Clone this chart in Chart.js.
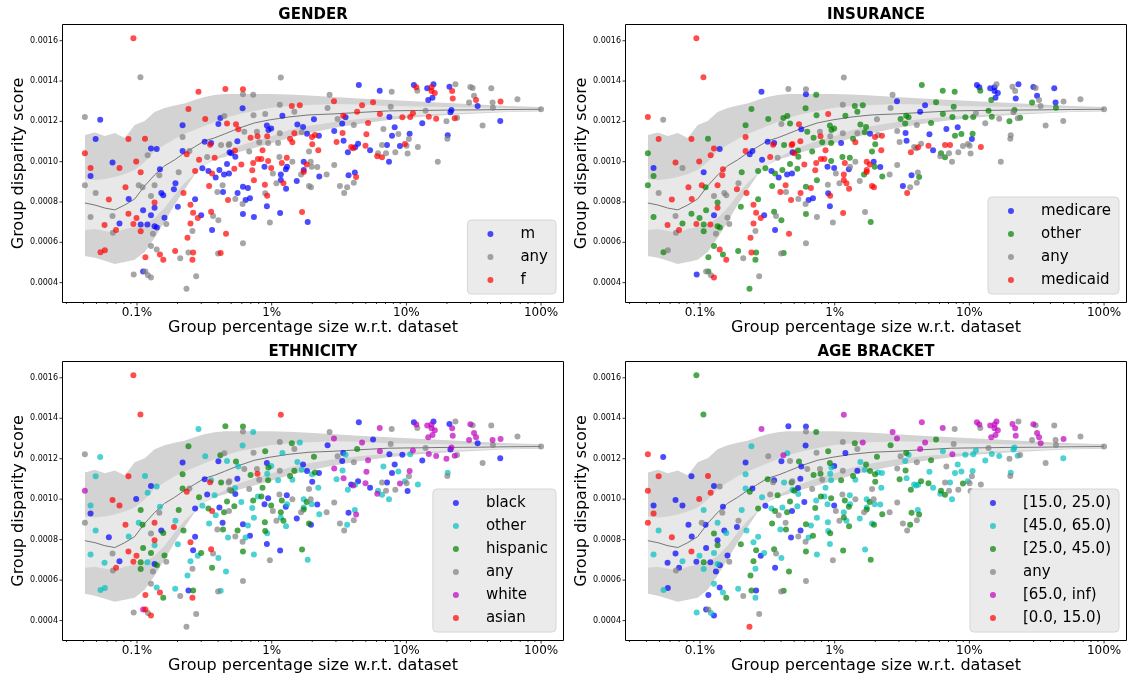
<!DOCTYPE html>
<html>
<head>
<meta charset="utf-8">
<script src="https://cdn.jsdelivr.net/npm/chart.js@4.4.1/dist/chart.umd.min.js"></script>
<style>
  body { margin: 0; background: #fff; }
  #wrap { position: relative; width: 1129px; height: 675px; }
  #wrap canvas { position: absolute; }
</style>
</head>
<body>
<div id="wrap">
  <canvas id="c0" width="566" height="337" style="left:0;top:0"></canvas>
  <canvas id="c1" width="566" height="337" style="left:563px;top:0"></canvas>
  <canvas id="c2" width="566" height="338" style="left:0;top:337px"></canvas>
  <canvas id="c3" width="566" height="338" style="left:563px;top:337px"></canvas>
</div>
<script>
// group size (% of dataset) and disparity score, one entry per group (same groups in every panel)
const groupSize = [
  0.094, 0.106, 0.286, 0.453, 0.041, 0.0533, 0.241, 0.218, 0.321, 0.416,
  0.445, 0.402, 0.466, 0.0493, 0.0864, 0.1146, 0.218, 0.318, 0.355, 0.349,
  0.421, 0.479, 0.041, 0.127, 0.14, 0.218, 0.245, 0.234, 0.12, 0.289,
  0.332, 0.377, 0.487, 0.0658, 0.0986, 0.466, 0.0452, 0.0452, 0.0741, 0.1065,
  0.148, 0.1465, 0.204, 0.27, 0.306, 0.339, 0.361, 0.384, 0.409, 0.443,
  0.482, 0.041, 0.0493, 0.0821, 0.0618, 0.103, 0.11, 0.135, 0.0868, 0.127,
  0.1515, 0.1567, 0.193, 0.188, 0.2215, 0.343, 0.432, 0.395, 0.435, 0.474,
  0.27, 0.135, 0.135, 0.111, 0.2495, 0.201, 0.0452, 0.0658, 0.0864, 0.127,
  0.261, 0.2826, 0.2995, 0.355, 0.367, 0.402, 0.16, 0.0991, 0.0574, 0.0741,
  0.094, 0.1065, 0.1194, 0.135, 0.1405, 0.165, 0.2495, 0.258, 0.361, 0.458,
  0.0699, 0.0663, 0.1065, 0.1313, 0.237, 0.127, 0.14, 0.148, 0.1567, 0.1154,
  0.192, 0.2094, 0.241, 0.261, 0.258, 0.4, 0.418, 0.0536, 0.0577, 0.0945,
  0.111, 0.1154, 0.1206, 0.127, 0.275, 0.233, 1.169, 4.436, 6.34, 7.78,
  0.612, 0.612, 0.729, 2.69, 2.9, 1.41, 1.616, 1.149, 2.6, 4.69,
  5.66, 7.65, 0.608, 4.31, 6.36, 7.48, 0.733, 0.895, 1.201, 1.473,
  3.395, 3.536, 3.085, 2.06, 3.337, 4.073, 5.195, 6.75, 8.19, 0.543,
  0.565, 0.921, 0.946, 0.991, 0.626, 0.785, 0.777, 1.551, 1.709, 1.473,
  1.149, 1.671, 1.829, 2.096, 1.992, 2.244, 2.912, 3.36, 5.05, 7.82,
  0.697, 0.926, 0.556, 1.369, 1.424, 2.0, 3.418, 3.033, 0.808, 0.941,
  1.116, 0.485, 0.534, 0.537, 0.501, 0.681, 2.218, 1.893, 3.89, 3.678,
  4.024, 4.38, 4.163, 4.97, 5.376, 6.595, 7.18, 6.16, 6.08, 6.595,
  7.06, 8.28, 7.43, 0.855, 1.141, 0.79, 0.838, 0.941, 0.729, 0.595,
  1.295, 1.189, 1.424, 1.729, 1.82, 1.948, 2.912, 0.528, 0.717, 0.884,
  0.991, 1.02, 1.301, 1.273, 1.729, 1.729, 1.652, 1.982, 2.18, 1.169,
  1.169, 1.084, 1.222, 1.279, 1.535, 2.256, 2.558, 3.72, 4.143, 4.236,
  4.073, 3.208, 3.633, 3.452, 1.893, 1.958, 0.738, 0.89, 0.612, 0.666,
  0.558, 0.537, 0.64, 0.69, 0.608, 0.895, 0.926, 0.921, 0.612, 0.738,
  1.155, 0.969, 1.68, 1.851, 0.612, 11.37, 11.85, 12.05, 14.28, 15.37,
  15.9, 15.37, 16.26, 15.63, 14.53, 20.88, 23.13, 21.87, 22.09, 29.85,
  31.05, 42.68, 31.8, 32.9, 29.2, 33.81, 43.64, 43.94, 50.02, 66.8,
  100, 21.61, 21.24, 13.88, 11.18, 10.69, 9.33, 14.68, 16.65, 22.85,
  23.81, 19.84, 13.12, 49.77, 36.81, 8.72, 10.57, 10.44, 20.28, 20.14,
  8.96, 9.75, 10.04, 12.17, 10.21, 17.11
];
const disparity = [
  0.001612, 0.001419, 0.001347, 0.001361, 0.001222, 0.001208, 0.001261, 0.001181, 0.001212, 0.001217,
  0.001227, 0.001187, 0.001189, 0.001113, 0.001113, 0.001114, 0.001123, 0.001099, 0.001093, 0.001084,
  0.001083, 0.001083, 0.001042, 0.001065, 0.001063, 0.001053, 0.001053, 0.001037, 0.001032, 0.00101,
  0.001023, 0.00102, 0.001047, 0.000996, 0.001001, 0.000989, 0.000969, 0.000929, 0.000969, 0.000947,
  0.000962, 0.000933, 0.000947, 0.000954, 0.000967, 0.000954, 0.000942, 0.000921, 0.000959, 0.000936,
  0.000942, 0.000883, 0.000845, 0.000873, 0.000812, 0.000883, 0.000873, 0.000883, 0.000815, 0.00083,
  0.000845, 0.000833, 0.000893, 0.000863, 0.000845, 0.00088, 0.000883, 0.00085, 0.00085, 0.00081,
  0.000814, 0.000797, 0.000772, 0.000759, 0.000787, 0.000777, 0.000726, 0.000731, 0.000742, 0.000734,
  0.000747, 0.000721, 0.000734, 0.000752, 0.000731, 0.000709, 0.000722, 0.000721, 0.000686, 0.000693,
  0.000691, 0.000688, 0.000688, 0.00068, 0.000673, 0.000691, 0.000693, 0.000656, 0.000661, 0.000643,
  0.000661, 0.000647, 0.000655, 0.000643, 0.000623, 0.000582, 0.000564, 0.000539, 0.000513, 0.000526,
  0.000557, 0.000521, 0.000549, 0.000549, 0.000513, 0.000544, 0.000547, 0.000551, 0.000561, 0.00044,
  0.000455, 0.000455, 0.000437, 0.000425, 0.000432, 0.00037, 0.001417, 0.00138, 0.001352, 0.001347,
  0.001359, 0.001334, 0.001332, 0.001332, 0.0013, 0.001276, 0.00128, 0.001283, 0.001266, 0.00128,
  0.001295, 0.001273, 0.001265, 0.001248, 0.001237, 0.001222, 0.00123, 0.001237, 0.001228, 0.001248,
  0.001228, 0.00122, 0.001212, 0.00121, 0.001189, 0.001182, 0.001192, 0.001162, 0.001171, 0.001186,
  0.001161, 0.001179, 0.001157, 0.001164, 0.001149, 0.001126, 0.001149, 0.001184, 0.001172, 0.001141,
  0.001141, 0.001146, 0.001139, 0.001132, 0.001123, 0.001129, 0.001152, 0.001142, 0.001136, 0.001129,
  0.001119, 0.001126, 0.001101, 0.001114, 0.001096, 0.001086, 0.001104, 0.001098, 0.001096, 0.001093,
  0.001093, 0.001088, 0.001055, 0.001025, 0.001042, 0.00105, 0.001057, 0.00105, 0.001073, 0.001047,
  0.001067, 0.001089, 0.001071, 0.001079, 0.001057, 0.001083, 0.001083, 0.001042, 0.001027, 0.001022,
  0.001042, 0.001047, 0.001, 0.001057, 0.001023, 0.001013, 0.001013, 0.001004, 0.000994, 0.000986,
  0.00102, 0.000994, 0.001, 0.001, 0.000986, 0.001, 0.000984, 0.000965, 0.000957, 0.000975,
  0.000969, 0.000942, 0.000975, 0.000962, 0.000959, 0.000949, 0.000936, 0.000975, 0.000974, 0.000936,
  0.000909, 0.000893, 0.000893, 0.000866, 0.000904, 0.000926, 0.000936, 0.000933, 0.000946, 0.000924,
  0.000896, 0.00088, 0.000873, 0.000845, 0.00088, 0.000873, 0.000908, 0.000886, 0.000876, 0.00087,
  0.000845, 0.000815, 0.00081, 0.000819, 0.00079, 0.000843, 0.000831, 0.000779, 0.000741, 0.000726,
  0.000746, 0.000698, 0.000751, 0.000701, 0.000595, 0.00138, 0.001369, 0.001352, 0.001364, 0.001369,
  0.001384, 0.001351, 0.001341, 0.001317, 0.001306, 0.001372, 0.001384, 0.001351, 0.001314, 0.00137,
  0.001366, 0.001364, 0.001327, 0.001306, 0.001293, 0.001276, 0.001293, 0.001268, 0.001298, 0.00131,
  0.00126, 0.001256, 0.001245, 0.001253, 0.00124, 0.001222, 0.00122, 0.001223, 0.001213, 0.001215,
  0.001218, 0.0012, 0.001191, 0.001202, 0.001179, 0.001137, 0.001139, 0.001113, 0.001131, 0.001114,
  0.001078, 0.001088, 0.001079, 0.001073, 0.00104, 0.001
];

// category of each group, as index into the panel's legend labels
const genderLabels = ['m', 'any', 'f'];
const genderCat = [
  2,1,2,2,1,0,2,0,2,0, 1,0,2,0,2,2,1,0,0,2, 1,1,2,0,0,0,1,2,1,2, 1,2,0,0,2,0,2,0,2,2,
  0,1,1,2,0,0,2,0,0,0, 0,1,1,2,2,1,1,1,0,1, 0,0,0,0,2,2,1,1,0,2, 0,2,0,0,2,0,1,1,2,0,
  2,2,0,2,1,1,0,2,2,0, 2,0,0,0,0,1,2,1,0,2, 2,1,2,1,2,1,1,2,2,2, 2,1,1,2,2,1,2,2,2,1,
  0,1,1,1,1,1,1,0,0,1, 2,1,1,1,2,2,2,1,1,2, 2,1,0,2,2,0,1,1,0,1, 2,0,1,0,0,1,2,1,0,2,
  2,0,0,0,1,2,1,0,0,2, 1,1,0,2,2,0,0,2,2,0, 2,2,0,2,2,2,0,2,1,1, 1,1,2,0,0,1,2,1,2,0,
  2,0,0,2,0,1,0,1,2,2, 1,1,0,2,1,2,2,2,2,2, 2,2,1,0,2,1,1,2,2,0, 2,1,0,0,0,2,1,1,1,0,
  0,1,2,0,0,0,1,0,0,2, 1,1,1,1,1,1,2,2,0,0, 0,1,0,0,1,1,2,0,0,0, 0,1,2,0,1,0,2,1,0,2,
  0,2,2,0,0,0,1,2,2,1, 1,1,1,2,1,0,1,1,2,1, 1,0,0,1,2,2,2,2,2,2, 1,1,0,0,1,1,0,1,0,1,
  0,2,1,1,1,1
];
const insuranceLabels = ['medicare', 'other', 'any', 'medicaid'];
const insuranceCat = [
  3,3,0,2,3,2,1,1,1,1, 1,2,1,3,3,1,3,0,0,3, 1,3,1,3,0,3,0,0,3,0, 3,2,0,3,3,1,0,1,2,0,
  3,3,1,1,1,0,1,0,1,0, 0,1,2,3,3,3,1,3,3,2, 2,2,2,3,3,1,3,3,2,3, 1,1,3,1,3,1,1,2,1,0,
  3,3,0,1,2,1,2,1,3,1, 3,1,3,1,1,2,3,2,0,3, 3,2,1,2,3,1,3,1,3,1, 1,2,3,1,1,2,1,1,2,0,
  2,1,2,3,2,1,2,1,1,1, 2,0,1,2,0,1,1,2,2,0, 1,1,1,0,1,1,1,3,1,1, 1,1,1,2,1,2,1,0,0,3,
  0,1,1,1,1,3,2,1,1,2, 2,1,0,2,3,3,2,0,0,1, 1,2,3,1,3,1,0,2,1,1, 0,3,1,1,3,1,3,1,2,3,
  2,2,3,3,0,3,3,1,2,1, 2,2,2,3,1,3,3,1,3,3, 1,3,2,3,3,0,2,1,3,0, 0,2,2,0,3,3,1,1,0,3,
  3,2,3,3,2,1,2,0,2,1, 2,0,2,3,3,3,1,2,1,3, 3,2,0,0,2,0,3,0,1,2, 3,2,2,1,2,0,0,1,0,0,
  2,0,0,0,1,2,0,2,0,0, 2,0,0,2,1,2,0,1,2,2, 2,1,2,1,2,1,1,1,2,2, 1,1,2,2,2,1,1,0,2,2,
  2,2,2,3,2,2
];
const ethnicityLabels = ['black', 'other', 'hispanic', 'any', 'white', 'asian'];
const ethnicityCat = [
  5,5,1,2,3,1,2,0,1,2, 3,0,1,1,5,1,2,0,1,5, 2,3,4,0,1,2,3,5,1,2, 0,1,3,5,0,2,1,0,5,2,
  1,3,2,0,1,2,5,1,0,2, 3,3,1,5,0,1,2,5,1,3, 0,2,1,5,2,1,0,3,2,1, 0,5,1,2,5,1,1,3,5,2,
  0,1,2,5,3,1,2,5,1,0, 5,2,1,0,2,3,1,3,2,1, 5,3,2,3,1,3,1,5,2,5, 1,3,0,2,5,3,1,1,1,3,
  4,5,3,5,3,3,5,0,4,3, 2,3,1,3,4,2,1,3,0,4, 0,3,1,2,4,0,3,2,1,3, 0,1,3,2,0,3,4,1,0,2,
  1,0,2,1,3,5,3,1,0,2, 3,1,0,2,1,0,4,1,4,0, 2,1,0,2,1,0,4,1,3,2, 1,3,1,0,2,3,1,3,0,1,
  4,0,1,4,0,3,0,1,4,1, 3,3,1,2,3,1,2,0,2,1, 0,2,3,1,2,3,3,2,1,0, 2,3,1,0,1,2,3,1,0,2,
  1,3,2,1,0,1,3,0,1,4, 3,3,1,3,2,0,1,2,0,1, 2,3,1,0,3,2,1,0,2,1, 0,3,2,1,3,0,4,3,4,4,
  0,4,4,4,4,0,3,4,4,4, 3,3,4,4,4,0,4,3,4,3, 3,4,0,3,4,1,0,4,4,4, 3,4,0,0,3,1,4,3,1,3,
  4,1,3,1,0,3
];
const ageLabels = ['[15.0, 25.0)', '[45.0, 65.0)', '[25.0, 45.0)', 'any', '[65.0, inf)', '[0.0, 15.0)'];
const ageCat = [
  2,2,4,0,5,0,1,0,3,4, 1,0,3,5,0,5,1,2,0,3, 1,2,5,0,3,1,0,2,5,1, 3,2,1,0,5,2,0,5,0,1,
  0,3,1,2,0,1,2,3,1,2, 0,5,1,0,5,3,0,1,0,2, 0,1,3,0,1,2,3,1,2,0, 1,0,2,0,1,2,1,0,5,1,
  2,0,1,2,3,1,0,1,0,1, 0,2,0,1,0,3,2,1,0,2, 0,3,1,0,2,1,0,1,2,0, 1,3,2,0,1,3,2,1,0,1,
  0,3,1,0,3,5,4,4,4,3, 0,3,2,4,4,2,4,3,2,4, 2,3,0,4,1,4,3,2,0,3, 2,1,3,2,1,3,2,3,1,2,
  0,2,1,0,3,2,3,1,2,0, 3,1,2,1,2,1,3,2,1,1, 2,1,0,2,1,2,1,2,3,1, 2,3,0,1,2,3,1,3,1,2,
  1,2,1,2,1,3,1,2,1,2, 3,3,1,1,3,2,1,2,1,0, 1,2,3,1,2,3,3,1,2,1, 0,3,1,2,1,2,3,1,1,1,
  2,3,1,2,1,2,3,2,1,2, 3,3,2,3,1,2,1,1,2,1, 0,3,1,2,3,1,2,1,2,1, 2,3,1,2,3,4,4,3,4,4,
  4,4,4,4,4,4,3,4,4,4, 3,3,4,4,3,4,3,3,4,3, 3,1,1,3,1,1,1,1,1,1, 3,3,1,1,3,1,1,3,1,3,
  2,1,3,3,3,3
];

// random-baseline envelope (outer / inner bands and median)
const bandSize = [0.041, 0.0487, 0.0577, 0.0684, 0.0811, 0.0961, 0.114, 0.135, 0.16, 0.19,
  0.225, 0.267, 0.317, 0.376, 0.445, 0.575, 0.742, 0.958, 1.346, 1.893,
  2.897, 4.436, 7.39, 12.32, 20.53, 34.21, 57.0, 100];
const outerHigh = [0.001132, 0.001145, 0.001128, 0.001142, 0.001118, 0.001182, 0.001202, 0.001247, 0.001266, 0.001279,
  0.001289, 0.001306, 0.001321, 0.001331, 0.001336, 0.001336, 0.001336, 0.001336, 0.001333, 0.001328,
  0.001321, 0.001313, 0.001306, 0.001299, 0.001291, 0.001284, 0.001276, 0.001271];
const innerHigh = [0.000914, 0.000909, 0.000914, 0.000924, 0.000939, 0.000959, 0.000999, 0.001053, 0.001083, 0.001113,
  0.001137, 0.001157, 0.001177, 0.001197, 0.001217, 0.001237, 0.001252, 0.001266, 0.001276, 0.001281,
  0.001286, 0.001284, 0.001276, 0.001274, 0.001271, 0.001269, 0.001266, 0.001264];
const medianScore = [0.000795, 0.000785, 0.00077, 0.000761, 0.000785, 0.000815, 0.00088, 0.000934, 0.000979, 0.001009,
  0.001043, 0.001073, 0.001103, 0.001118, 0.001137, 0.001167, 0.001192, 0.001207, 0.001222, 0.001232,
  0.001237, 0.001244, 0.001252, 0.001254, 0.001256, 0.001257, 0.001259, 0.00126];
const innerLow = [0.000661, 0.000666, 0.000656, 0.000647, 0.000666, 0.000676, 0.000691, 0.000721, 0.00077, 0.000835,
  0.000894, 0.000939, 0.000984, 0.001018, 0.001043, 0.001078, 0.001103, 0.001123, 0.001157, 0.001177,
  0.001197, 0.001212, 0.001224, 0.001232, 0.001239, 0.001244, 0.001249, 0.001254];
const outerLow = [0.000532, 0.000523, 0.000508, 0.000493, 0.000503, 0.000513, 0.000552, 0.000622, 0.000701, 0.000785,
  0.00086, 0.000934, 0.000984, 0.001009, 0.001023, 0.001048, 0.001068, 0.001088, 0.001118, 0.001142,
  0.001167, 0.001187, 0.001207, 0.001222, 0.001232, 0.001239, 0.001247, 0.001249];

// axis ticks
const xTickVals = [0.1, 1, 10, 100];
const xTickText = ['0.1%', '1%', '10%', '100%'];
const xMinorVals = [0.03, 0.04, 0.05, 0.06, 0.07, 0.08, 0.09, 0.2, 0.3, 0.4, 0.5, 0.6, 0.7, 0.8, 0.9,
  2, 3, 4, 5, 6, 7, 8, 9, 20, 30, 40, 50, 60, 70, 80, 90];
const yTickVals = [0.0004, 0.0006, 0.0008, 0.001, 0.0012, 0.0014, 0.0016];
const yTickText = ['0.0004', '0.0006', '0.0008', '0.0010', '0.0012', '0.0014', '0.0016'];

const BLUE = 'rgba(0,0,255,0.7)';
const GREY = 'rgba(128,128,128,0.7)';
const RED = 'rgba(255,0,0,0.7)';
const GREEN = 'rgba(0,128,0,0.7)';
const CYAN = 'rgba(0,191,191,0.7)';
const MAGENTA = 'rgba(191,0,191,0.7)';
const FONT = '"DejaVu Sans", sans-serif';

Chart.defaults.font.family = FONT;
Chart.defaults.color = '#000';

// frame, tick marks, panel title and legend (drawn like matplotlib)
const panelDecor = {
  id: 'panelDecor',
  afterDatasetsDraw(chart) {
    const { ctx, chartArea: a, scales: { x, y } } = chart;
    ctx.save();
    ctx.strokeStyle = '#000';
    ctx.lineWidth = 1;
    ctx.beginPath();
    ctx.rect(a.left - 0.5, a.top - 0.5, a.right - a.left + 1, a.bottom - a.top + 1);
    ctx.stroke();
    ctx.lineWidth = 0.8;
    ctx.beginPath();
    xTickVals.forEach(v => {
      const px = x.getPixelForValue(v);
      ctx.moveTo(px, a.bottom); ctx.lineTo(px, a.bottom + 3.5);
    });
    xMinorVals.forEach(v => {
      const px = x.getPixelForValue(v);
      ctx.moveTo(px, a.bottom); ctx.lineTo(px, a.bottom + 2);
    });
    yTickVals.forEach(v => {
      const py = y.getPixelForValue(v);
      ctx.moveTo(a.left, py); ctx.lineTo(a.left - 3.5, py);
    });
    ctx.stroke();
    ctx.restore();
  },
  afterDraw(chart, args, opts) {
    const { ctx, chartArea: a } = chart;
    ctx.save();
    ctx.fillStyle = '#000';
    ctx.font = 'bold 15px ' + FONT;
    ctx.textAlign = 'center';
    ctx.textBaseline = 'middle';
    ctx.fillText(opts.title, (a.left + a.right) / 2, a.top - 10);

    ctx.font = '15px ' + FONT;
    const tw = Math.max(...opts.labels.map(l => ctx.measureText(l).width));
    const w = 24 + 29 + tw + 8;
    const h = (opts.labels.length - 1) * 23 + 28;
    const bx = a.right - 7 - w;
    const by = a.bottom - 8 - h;
    ctx.beginPath();
    ctx.roundRect(bx, by, w, h, 4);
    ctx.fillStyle = '#ebebeb';
    ctx.fill();
    ctx.strokeStyle = '#d6d6d6';
    ctx.lineWidth = 1;
    ctx.stroke();
    ctx.textAlign = 'left';
    opts.labels.forEach((l, k) => {
      const cy = by + 14 + k * 23;
      ctx.beginPath();
      ctx.arc(bx + 23, cy, 3, 0, Math.PI * 2);
      ctx.fillStyle = opts.colors[k];
      ctx.fill();
      ctx.fillStyle = '#000';
      ctx.fillText(l, bx + 53, cy);
    });
    ctx.restore();
  }
};

function drawPanel(canvasId, title, labels, colors, cats) {
  const datasets = [];
  labels.forEach((lab, k) => {
    const pts = [];
    groupSize.forEach((s, i) => {
      if (cats[i] === k) pts.push({ x: s, y: disparity[i] });
    });
    datasets.push({
      type: 'scatter', label: lab, data: pts,
      backgroundColor: colors[k], pointRadius: 3, pointBorderWidth: 0, pointHoverRadius: 3,
      order: labels.length - k
    });
  });
  const band = arr => bandSize.map((s, i) => ({ x: s, y: arr[i] }));
  const lineBase = { type: 'line', pointRadius: 0, borderColor: 'rgba(0,0,0,0)', borderWidth: 0, tension: 0 };
  datasets.push(
    { ...lineBase, data: band(outerHigh), fill: '+1', backgroundColor: '#d3d3d3', order: 30 },
    { ...lineBase, data: band(outerLow), fill: false, order: 30 },
    { ...lineBase, data: band(innerHigh), fill: '+1', backgroundColor: '#e8e8e8', order: 29 },
    { ...lineBase, data: band(innerLow), fill: false, order: 29 },
    { ...lineBase, data: band(medianScore), fill: false, borderColor: 'rgba(105,105,105,0.9)', borderWidth: 1, order: 28 }
  );

  new Chart(document.getElementById(canvasId), {
    type: 'scatter',
    data: { datasets },
    plugins: [panelDecor],
    options: {
      responsive: false,
      animation: false,
      devicePixelRatio: 1,
      events: [],
      layout: { padding: { left: 0, top: 25, right: 1, bottom: 0 } },
      plugins: {
        legend: { display: false },
        tooltip: { enabled: false },
        panelDecor: { title, labels, colors }
      },
      scales: {
        x: {
          type: 'logarithmic',
          min: 0.02822, max: 145.5,
          grid: { display: false, drawTicks: false },
          border: { display: false },
          afterBuildTicks: s => { s.ticks = xTickVals.map(v => ({ value: v })); },
          afterFit: s => { s.height = 35; },
          ticks: {
            autoSkip: false, maxRotation: 0, padding: 4,
            font: { size: 12 },
            callback: v => xTickText[xTickVals.indexOf(v)]
          },
          title: { display: true, text: 'Group percentage size w.r.t. dataset', font: { size: 16 }, padding: { top: 0, bottom: 0 } }
        },
        y: {
          type: 'linear',
          min: 0.000304, max: 0.001678,
          grid: { display: false, drawTicks: false },
          border: { display: false },
          afterBuildTicks: s => { s.ticks = yTickVals.map(v => ({ value: v })); },
          afterFit: s => { s.width = 63; },
          ticks: {
            autoSkip: false, padding: 5,
            font: { size: 8 },
            callback: v => yTickText[yTickVals.indexOf(v)]
          },
          title: { display: true, text: 'Group disparity score', font: { size: 16 }, padding: { top: 9, bottom: 0 } }
        }
      }
    }
  });
}

drawPanel('c0', 'GENDER', genderLabels, [BLUE, GREY, RED], genderCat);
drawPanel('c1', 'INSURANCE', insuranceLabels, [BLUE, GREEN, GREY, RED], insuranceCat);
drawPanel('c2', 'ETHNICITY', ethnicityLabels, [BLUE, CYAN, GREEN, GREY, MAGENTA, RED], ethnicityCat);
drawPanel('c3', 'AGE BRACKET', ageLabels, [BLUE, CYAN, GREEN, GREY, MAGENTA, RED], ageCat);
</script>
</body>
</html>
